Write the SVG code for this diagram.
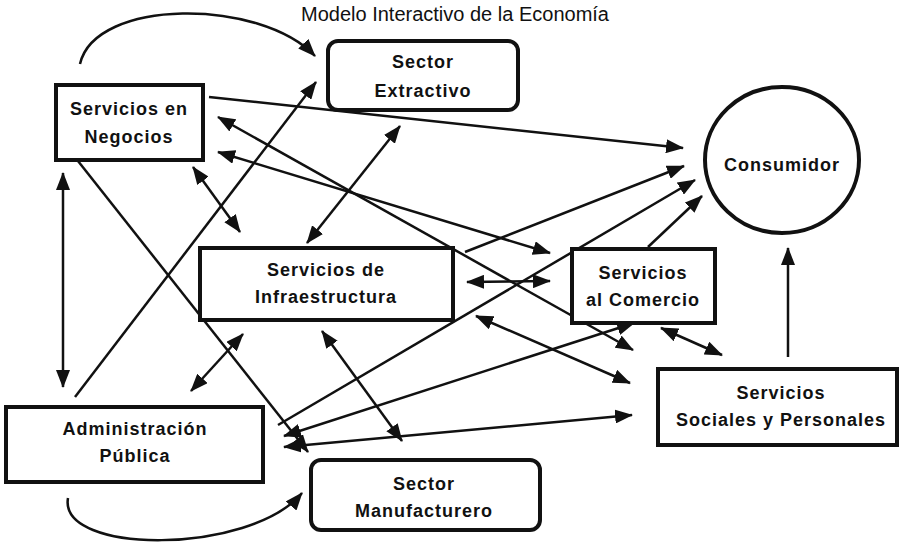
<svg xmlns="http://www.w3.org/2000/svg" width="908" height="546" viewBox="0 0 908 546">
<style>
.box{fill:#fff;stroke:#111;stroke-width:4}
.lbl{font-family:"Liberation Sans",Arial,sans-serif;font-weight:bold;font-size:18px;letter-spacing:1px;fill:#111;text-anchor:middle}
.title{font-family:"Liberation Sans",Arial,sans-serif;font-size:20px;fill:#111;text-anchor:middle}
.c{fill:none;stroke:#111;stroke-width:2.5}
.s{marker-end:url(#ah)}
.d{marker-start:url(#ah);marker-end:url(#ah)}
</style>
<defs>
<marker id="ah" markerUnits="userSpaceOnUse" markerWidth="18" markerHeight="14" refX="17" refY="7" orient="auto-start-reverse" viewBox="0 0 18 14">
<path d="M0,0 L18,7 L0,14 z" fill="#111"/>
</marker>
</defs>
<rect width="908" height="546" fill="#fff"/>
<text class="title" x="455" y="21">Modelo Interactivo de la Economía</text>
<g id="connectors">
<path class="c s" d="M80,64 C95,-2 260,-2 315,56"/>
<path class="c s" d="M68,498 C58,555 250,555 302,493"/>
<line class="c s" x1="209" y1="97" x2="683" y2="148"/>
<line class="c s" x1="75" y1="397" x2="316" y2="82"/>
<line class="c s" x1="78" y1="161" x2="308" y2="452"/>
<line class="c s" x1="278" y1="425" x2="695" y2="180"/>
<line class="c s" x1="465" y1="252" x2="684" y2="166"/>
<line class="c s" x1="648" y1="247" x2="702" y2="196"/>
<line class="c s" x1="788" y1="357" x2="788" y2="248"/>
<line class="c d" x1="63" y1="173" x2="63" y2="387"/>
<line class="c d" x1="193" y1="167" x2="240" y2="232"/>
<line class="c d" x1="400" y1="126" x2="307" y2="243"/>
<line class="c d" x1="243" y1="334" x2="191" y2="391"/>
<line class="c d" x1="322" y1="331" x2="402" y2="441"/>
<line class="c d" x1="467" y1="282" x2="550" y2="281"/>
<line class="c d" x1="476" y1="316" x2="630" y2="383"/>
<line class="c d" x1="218" y1="152" x2="550" y2="253"/>
<line class="c d" x1="218" y1="117" x2="633" y2="350"/>
<line class="c d" x1="661" y1="328" x2="722" y2="355"/>
<line class="c d" x1="284" y1="436" x2="634" y2="323"/>
<line class="c d" x1="284" y1="447" x2="632" y2="415"/>
</g>
<g id="negocios">
<rect class="box" x="56" y="85" width="147" height="75"/>
<text class="lbl" x="129" y="115">Servicios en</text>
<text class="lbl" x="129" y="143">Negocios</text>
</g>
<g id="extractivo">
<rect class="box" x="328" y="41" width="190" height="69" rx="10"/>
<text class="lbl" x="423" y="68">Sector</text>
<text class="lbl" x="423" y="97">Extractivo</text>
</g>
<g id="infraestructura">
<rect class="box" x="200" y="248" width="253" height="72"/>
<text class="lbl" x="326" y="276">Servicios de</text>
<text class="lbl" x="326" y="303">Infraestructura</text>
</g>
<g id="comercio">
<rect class="box" x="572" y="249" width="143" height="74"/>
<text class="lbl" x="643" y="279">Servicios</text>
<text class="lbl" x="643" y="306">al Comercio</text>
</g>
<g id="consumidor">
<ellipse class="box" cx="782" cy="160" rx="77" ry="73"/>
<text class="lbl" x="782" y="171">Consumidor</text>
</g>
<g id="sociales">
<rect class="box" x="658" y="369" width="239" height="76"/>
<text class="lbl" x="781" y="399">Servicios</text>
<text class="lbl" x="781" y="426">Sociales y Personales</text>
</g>
<g id="administracion">
<rect class="box" x="6" y="407" width="257" height="75"/>
<text class="lbl" x="135" y="435">Administración</text>
<text class="lbl" x="135" y="462">Pública</text>
</g>
<g id="manufacturero">
<rect class="box" x="311" y="460" width="229" height="70" rx="10"/>
<text class="lbl" x="424" y="490">Sector</text>
<text class="lbl" x="424" y="517">Manufacturero</text>
</g>
</svg>
